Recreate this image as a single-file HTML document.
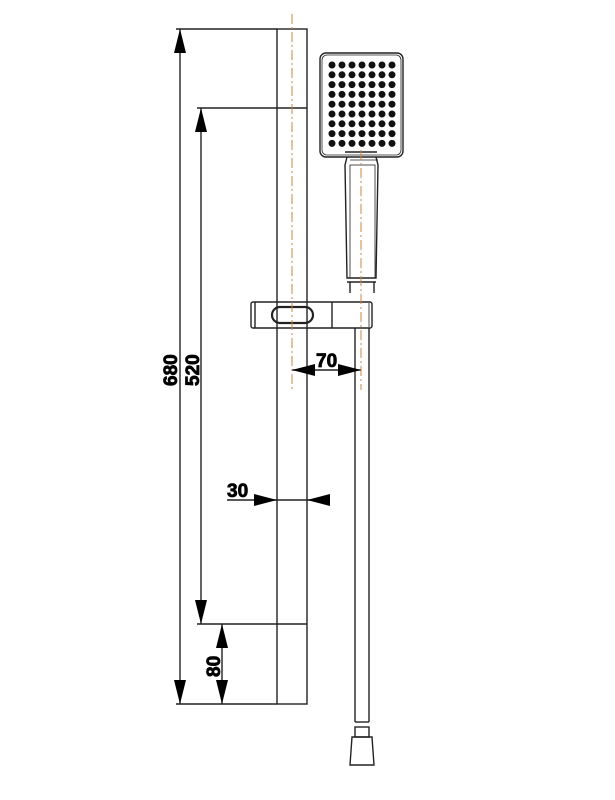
<!DOCTYPE html>
<html><head><meta charset="utf-8"><style>html,body{margin:0;padding:0;background:#fff}svg{display:block}</style></head>
<body>
<svg width="615" height="800" viewBox="0 0 615 800" xmlns="http://www.w3.org/2000/svg">
<g stroke="#222" fill="none" stroke-width="1.4">
<rect x="277" y="29" width="30" height="675"/>
<line x1="277" y1="108" x2="307" y2="108"/>
<line x1="277" y1="624" x2="307" y2="624"/>
<line x1="176" y1="29" x2="277" y2="29"/>
<line x1="176" y1="704" x2="277" y2="704"/>
<line x1="197" y1="108" x2="277" y2="108"/>
<line x1="197" y1="624" x2="277" y2="624"/>
<line x1="180" y1="29" x2="180" y2="704"/>
<line x1="201" y1="108" x2="201" y2="624"/>
<line x1="222" y1="624" x2="222" y2="704"/>
<line x1="227" y1="500" x2="330" y2="500"/>
<line x1="292" y1="370" x2="361" y2="370"/>
<rect x="320" y="53" width="83" height="104" rx="6"/>
<rect x="322" y="55" width="79" height="100" rx="5" stroke-width="0.8"/>
<path d="M347 157 L345 165 L347 278 L376 278 L378 165 L376 157"/>
<path d="M350 160 L378 160" stroke-width="0.8"/>
<line x1="345" y1="152" x2="377" y2="152"/>
<rect x="350" y="165" width="25" height="113" stroke-width="0.8"/>
<path d="M350 282 L350 293 M374 282 L374 293"/>
<line x1="347" y1="282" x2="376" y2="282"/>
<rect x="251" y="302" width="121" height="26" rx="2"/>
<line x1="255" y1="302" x2="255" y2="328"/>
<line x1="332" y1="302" x2="332" y2="328"/>
<line x1="369" y1="303" x2="369" y2="327" stroke-width="0.8"/>
<rect x="272" y="307" width="41" height="16" rx="8" stroke-width="2.2"/>
<line x1="355" y1="328" x2="355" y2="722"/>
<line x1="369" y1="328" x2="369" y2="722"/>
<line x1="355" y1="722" x2="369" y2="722"/>
<rect x="355" y="727" width="14" height="10"/>
<path d="M352 737 L372 737 L374 765 L350 765 Z"/>
</g>
<g stroke="#c8864a" stroke-width="1" stroke-dasharray="10,3,2,3" fill="none">
<line x1="292" y1="14" x2="292" y2="390"/>
<line x1="361" y1="150" x2="361" y2="390"/>
</g>
<g fill="#111">
<circle cx="332" cy="65" r="3.5"/><circle cx="342" cy="65" r="3.5"/><circle cx="352" cy="65" r="3.5"/><circle cx="362" cy="65" r="3.5"/><circle cx="372" cy="65" r="3.5"/><circle cx="382" cy="65" r="3.5"/><circle cx="392" cy="65" r="3.5"/>
<circle cx="332" cy="74.8" r="3.5"/><circle cx="342" cy="74.8" r="3.5"/><circle cx="352" cy="74.8" r="3.5"/><circle cx="362" cy="74.8" r="3.5"/><circle cx="372" cy="74.8" r="3.5"/><circle cx="382" cy="74.8" r="3.5"/><circle cx="392" cy="74.8" r="3.5"/>
<circle cx="332" cy="84.6" r="3.5"/><circle cx="342" cy="84.6" r="3.5"/><circle cx="352" cy="84.6" r="3.5"/><circle cx="362" cy="84.6" r="3.5"/><circle cx="372" cy="84.6" r="3.5"/><circle cx="382" cy="84.6" r="3.5"/><circle cx="392" cy="84.6" r="3.5"/>
<circle cx="332" cy="94.4" r="3.5"/><circle cx="342" cy="94.4" r="3.5"/><circle cx="352" cy="94.4" r="3.5"/><circle cx="362" cy="94.4" r="3.5"/><circle cx="372" cy="94.4" r="3.5"/><circle cx="382" cy="94.4" r="3.5"/><circle cx="392" cy="94.4" r="3.5"/>
<circle cx="332" cy="104.2" r="3.5"/><circle cx="342" cy="104.2" r="3.5"/><circle cx="352" cy="104.2" r="3.5"/><circle cx="362" cy="104.2" r="3.5"/><circle cx="372" cy="104.2" r="3.5"/><circle cx="382" cy="104.2" r="3.5"/><circle cx="392" cy="104.2" r="3.5"/>
<circle cx="332" cy="114" r="3.5"/><circle cx="342" cy="114" r="3.5"/><circle cx="352" cy="114" r="3.5"/><circle cx="362" cy="114" r="3.5"/><circle cx="372" cy="114" r="3.5"/><circle cx="382" cy="114" r="3.5"/><circle cx="392" cy="114" r="3.5"/>
<circle cx="332" cy="123.8" r="3.5"/><circle cx="342" cy="123.8" r="3.5"/><circle cx="352" cy="123.8" r="3.5"/><circle cx="362" cy="123.8" r="3.5"/><circle cx="372" cy="123.8" r="3.5"/><circle cx="382" cy="123.8" r="3.5"/><circle cx="392" cy="123.8" r="3.5"/>
<circle cx="332" cy="133.6" r="3.5"/><circle cx="342" cy="133.6" r="3.5"/><circle cx="352" cy="133.6" r="3.5"/><circle cx="362" cy="133.6" r="3.5"/><circle cx="372" cy="133.6" r="3.5"/><circle cx="382" cy="133.6" r="3.5"/><circle cx="392" cy="133.6" r="3.5"/>
<circle cx="332" cy="143.4" r="3.5"/><circle cx="342" cy="143.4" r="3.5"/><circle cx="352" cy="143.4" r="3.5"/><circle cx="362" cy="143.4" r="3.5"/><circle cx="372" cy="143.4" r="3.5"/><circle cx="382" cy="143.4" r="3.5"/><circle cx="392" cy="143.4" r="3.5"/>
</g>
<g fill="#000">
<polygon points="180,29 174,53 186,53"/>
<polygon points="180,704 174,680 186,680"/>
<polygon points="201,108 195,132 207,132"/>
<polygon points="201,624 195,600 207,600"/>
<polygon points="222,624 216,648 228,648"/>
<polygon points="222,704 216,680 228,680"/>
<polygon points="277,500 254,494 254,506"/>
<polygon points="307,500 330,494 330,506"/>
<polygon points="292,370 315,364 315,376"/>
<polygon points="361,370 338,364 338,376"/>
</g>
<g font-family="Liberation Sans, sans-serif" font-weight="bold" font-size="19" fill="#000" stroke="#000" stroke-width="0.8">
<text x="0" y="0" transform="translate(177,386) rotate(-90)">680</text>
<text x="0" y="0" transform="translate(199,386) rotate(-90)">520</text>
<text x="0" y="0" transform="translate(220,677) rotate(-90)">80</text>
<text x="227" y="497">30</text>
<text x="316" y="367">70</text>
</g>
</svg>
</body></html>
